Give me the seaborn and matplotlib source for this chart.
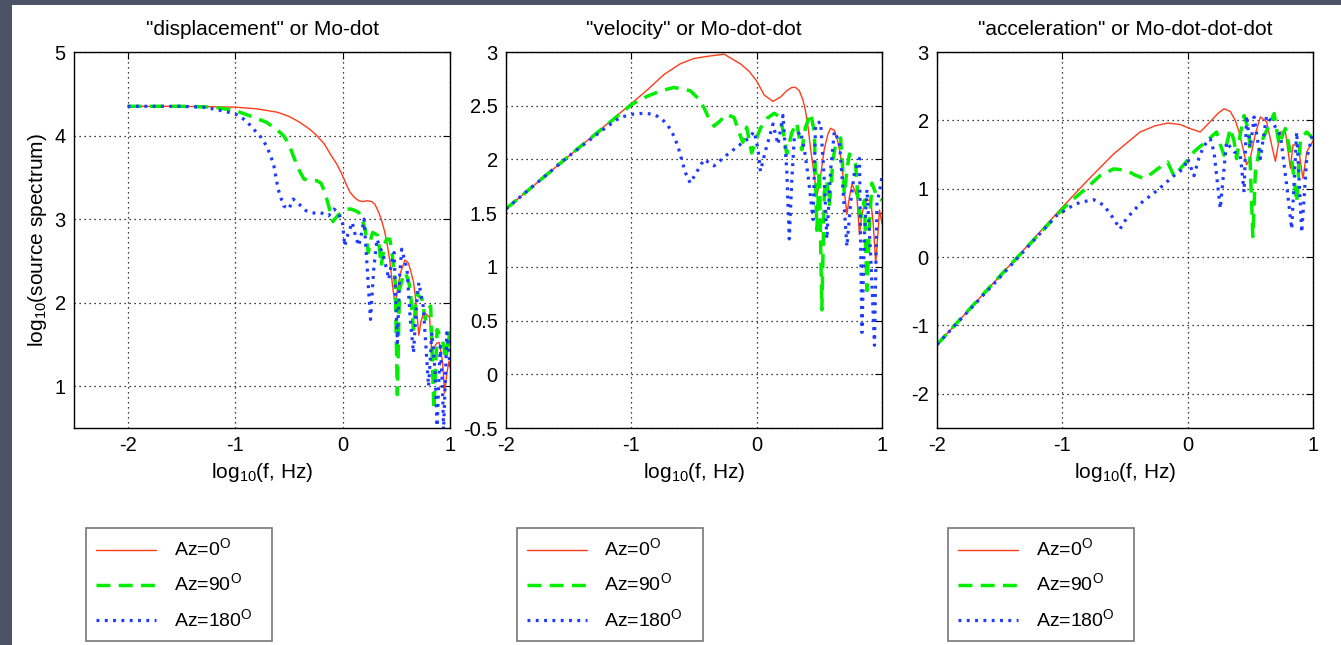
import matplotlib
matplotlib.use("Agg")
import matplotlib.pyplot as plt
import seaborn as sns
import pandas as pd
from matplotlib.patches import Rectangle
from matplotlib.font_manager import fontManager

# ---------------- data ----------------
titles = ['"displacement" or Mo-dot', '"velocity" or Mo-dot-dot', '"acceleration" or Mo-dot-dot-dot']
labels = ['Az=0', 'Az=90', 'Az=180']

disp_red_x = [-2.0,-1.5,-1.0,-0.8,-0.61,-0.5,-0.40,-0.30,-0.24,-0.17,-0.11,-0.05,0.0,0.04,0.07,0.11,0.15,0.19,0.23,0.27,0.30,0.33,0.36,0.39,0.41,0.44,0.47,0.49,0.51,0.54,0.58,0.61,0.63,0.66,0.68,0.71,0.73,0.76,0.78,0.81,0.83,0.86,0.88,0.90,0.93,0.95,0.97,0.99,1.0]
disp_red_y = [4.35,4.35,4.34,4.32,4.28,4.23,4.16,4.07,4.0,3.90,3.77,3.65,3.52,3.40,3.32,3.26,3.22,3.21,3.22,3.21,3.18,3.10,3.0,2.86,2.74,2.50,2.15,1.97,2.15,2.36,2.51,2.48,2.40,2.25,2.05,1.61,1.78,1.89,1.86,1.83,1.40,1.48,1.52,1.52,1.30,0.92,1.15,1.30,1.23]

disp_green_x = [-2.0,-1.5,-1.2,-1.0,-0.85,-0.71,-0.62,-0.55,-0.50,-0.46,-0.41,-0.36,-0.30,-0.24,-0.20,-0.16,-0.13,-0.09,-0.04,0.0,0.04,0.08,0.12,0.15,0.18,0.21,0.24,0.26,0.28,0.31,0.33,0.36,0.39,0.41,0.44,0.46,0.49,0.51,0.53,0.56,0.58,0.61,0.63,0.66,0.69,0.71,0.74,0.77,0.80,0.82,0.85,0.88,0.91,0.94,0.96,0.99,1.0]
disp_green_y = [4.35,4.35,4.34,4.30,4.23,4.16,4.08,4.0,3.90,3.76,3.60,3.48,3.46,3.46,3.43,3.30,3.16,2.97,3.05,3.08,3.12,3.12,3.10,3.08,3.00,2.88,2.60,2.75,2.84,2.82,2.80,2.44,2.70,2.76,2.76,2.60,2.24,0.90,2.16,2.30,2.36,2.28,2.16,1.68,2.12,2.08,2.04,1.80,1.92,1.96,0.72,1.68,1.60,1.50,1.32,1.64,1.40]

disp_blue_x = [-2.0,-1.5,-1.3,-1.21,-1.1,-1.0,-0.9,-0.83,-0.76,-0.71,-0.67,-0.64,-0.60,-0.55,-0.50,-0.46,-0.42,-0.39,-0.34,-0.30,-0.25,-0.21,-0.17,-0.13,-0.08,-0.04,0.0,0.02,0.05,0.09,0.12,0.15,0.18,0.20,0.23,0.26,0.29,0.32,0.35,0.38,0.41,0.43,0.46,0.48,0.51,0.53,0.55,0.58,0.60,0.63,0.66,0.69,0.71,0.73,0.75,0.78,0.80,0.82,0.83,0.86,0.88,0.90,0.91,0.93,0.94,0.96,0.97,0.99,1.0]
disp_blue_y = [4.35,4.35,4.34,4.32,4.29,4.26,4.18,4.08,3.98,3.88,3.76,3.64,3.36,3.16,3.12,3.24,3.20,3.16,3.10,3.08,3.07,3.08,3.06,3.04,3.12,3.08,2.95,2.68,2.82,2.96,2.80,2.68,2.85,3.0,2.40,1.80,2.40,2.76,2.66,2.56,2.40,2.28,2.50,2.60,1.52,2.30,2.64,2.50,2.40,1.80,1.40,2.00,2.24,2.10,1.96,1.40,1.00,1.40,1.64,1.20,0.52,1.20,1.48,1.00,0.48,1.20,1.64,1.40,1.24]

vel_red_x = [-2.0,-1.5,-1.0,-0.87,-0.74,-0.61,-0.50,-0.39,-0.26,-0.13,-0.06,0.0,0.06,0.13,0.19,0.24,0.28,0.31,0.34,0.37,0.39,0.41,0.43,0.46,0.48,0.51,0.54,0.57,0.59,0.62,0.64,0.66,0.68,0.70,0.72,0.74,0.76,0.78,0.80,0.82,0.84,0.86,0.88,0.91,0.93,0.95,0.97,0.98,1.0]
vel_red_y = [1.54,2.03,2.52,2.65,2.79,2.89,2.94,2.96,2.98,2.89,2.82,2.73,2.60,2.54,2.58,2.64,2.67,2.67,2.64,2.55,2.45,2.30,2.10,1.85,1.65,1.85,2.10,2.24,2.29,2.27,2.20,2.10,1.95,1.70,1.49,1.65,1.77,1.72,1.65,1.30,1.50,1.58,1.62,1.62,1.40,1.03,1.35,1.53,1.40]

vel_green_x = [-2.0,-1.5,-1.0,-0.87,-0.76,-0.66,-0.53,-0.46,-0.42,-0.38,-0.34,-0.29,-0.24,-0.18,-0.14,-0.11,-0.08,-0.04,0.0,0.03,0.08,0.14,0.19,0.22,0.24,0.28,0.32,0.34,0.36,0.39,0.43,0.46,0.48,0.50,0.52,0.54,0.56,0.58,0.61,0.63,0.67,0.70,0.72,0.74,0.77,0.79,0.81,0.83,0.86,0.88,0.90,0.92,0.96,1.0]
vel_green_y = [1.54,2.03,2.51,2.59,2.64,2.67,2.64,2.56,2.48,2.38,2.31,2.36,2.42,2.39,2.25,2.16,2.30,2.06,2.20,2.29,2.38,2.43,2.39,2.20,2.05,2.25,2.34,2.20,2.09,2.30,2.43,2.26,1.34,1.90,0.60,1.70,1.80,1.58,2.00,2.14,2.20,1.67,1.90,2.05,2.00,1.95,1.60,1.46,1.62,0.78,1.40,1.78,1.65,1.62]

vel_blue_x = [-2.0,-1.5,-1.2,-1.09,-1.0,-0.90,-0.82,-0.76,-0.71,-0.67,-0.63,-0.57,-0.53,-0.49,-0.42,-0.34,-0.23,-0.13,-0.06,-0.02,0.01,0.03,0.07,0.10,0.13,0.17,0.21,0.24,0.26,0.28,0.30,0.35,0.38,0.41,0.45,0.47,0.51,0.54,0.56,0.59,0.62,0.66,0.69,0.72,0.75,0.78,0.82,0.84,0.86,0.88,0.91,0.94,0.96,0.98,1.0]
vel_blue_y = [1.54,2.03,2.30,2.39,2.42,2.43,2.42,2.38,2.32,2.24,2.13,1.88,1.78,1.86,2.00,1.94,2.05,2.14,2.20,2.26,2.10,1.89,2.08,2.20,2.33,2.14,2.41,1.90,1.26,1.80,2.20,2.26,2.10,1.85,1.44,2.33,2.35,1.80,1.26,1.90,2.26,2.16,1.70,1.19,1.60,1.88,2.01,0.39,1.30,1.72,1.10,0.27,1.60,1.70,1.84]

acc_red_x = [-2.0,-1.5,-1.0,-0.80,-0.59,-0.38,-0.26,-0.16,-0.06,0.02,0.10,0.18,0.24,0.29,0.34,0.38,0.41,0.44,0.47,0.50,0.54,0.58,0.63,0.67,0.70,0.74,0.78,0.82,0.84,0.88,0.92,0.95,1.0]
acc_red_y = [-1.28,-0.28,0.73,1.12,1.51,1.83,1.92,1.96,1.94,1.88,1.83,1.98,2.10,2.17,2.13,2.00,1.83,1.60,1.35,1.45,1.80,2.05,1.98,1.64,1.40,1.83,1.83,1.30,1.64,1.64,1.15,1.54,1.70]

acc_green_x = [-2.0,-1.5,-1.0,-0.91,-0.80,-0.70,-0.59,-0.49,-0.42,-0.35,-0.29,-0.24,-0.16,-0.11,-0.06,0.0,0.05,0.10,0.15,0.20,0.23,0.26,0.29,0.34,0.37,0.39,0.42,0.45,0.49,0.52,0.54,0.57,0.60,0.65,0.69,0.73,0.76,0.78,0.83,0.87,0.90,0.95,1.0]
acc_green_y = [-1.28,-0.28,0.70,0.85,1.02,1.19,1.29,1.27,1.20,1.15,1.22,1.29,1.39,1.19,1.29,1.42,1.54,1.62,1.69,1.78,1.83,1.65,1.49,1.88,1.70,1.44,1.80,2.07,1.83,0.30,1.24,1.55,1.73,1.93,2.10,1.64,1.80,1.88,1.44,0.80,1.73,1.83,1.73]

acc_blue_x = [-2.0,-1.5,-1.05,-1.0,-0.93,-0.86,-0.75,-0.67,-0.59,-0.54,-0.49,-0.38,-0.24,-0.11,-0.03,0.0,0.05,0.09,0.13,0.18,0.21,0.26,0.31,0.37,0.42,0.45,0.47,0.50,0.53,0.58,0.63,0.69,0.74,0.79,0.83,0.87,0.91,0.95,1.0]
acc_blue_y = [-1.28,-0.30,0.60,0.66,0.74,0.80,0.84,0.76,0.56,0.41,0.56,0.78,0.98,1.19,1.30,1.44,1.19,1.45,1.63,1.73,1.54,0.71,1.68,1.54,1.49,0.95,2.07,1.60,2.05,1.44,2.07,1.93,1.78,1.05,0.41,1.83,0.36,1.44,1.83]

xlims = [(-2.5, 1), (-2, 1), (-2, 1)]
ylims = [(0.5, 5), (-0.5, 3), (-2.5, 3)]
xticks = [[-2, -1, 0, 1], [-2, -1, 0, 1], [-2, -1, 0, 1]]
yticks = [[1, 2, 3, 4, 5], [-0.5, 0, 0.5, 1, 1.5, 2, 2.5, 3], [-2, -1, 0, 1, 2, 3]]
ytick_labels = [['1', '2', '3', '4', '5'],
                ['-0.5', '0', '0.5', '1', '1.5', '2', '2.5', '3'],
                ['-2', '-1', '0', '1', '2', '3']]

panels = [
    [(disp_red_x, disp_red_y), (disp_green_x, disp_green_y), (disp_blue_x, disp_blue_y)],
    [(vel_red_x, vel_red_y), (vel_green_x, vel_green_y), (vel_blue_x, vel_blue_y)],
    [(acc_red_x, acc_red_y), (acc_green_x, acc_green_y), (acc_blue_x, acc_blue_y)],
]

# ---------------- styling ----------------
sns.set_theme(style="white")
plt.rcParams['font.family'] = ['Liberation Sans', 'DejaVu Sans']
plt.rcParams['text.color'] = 'black'
names = {f.name for f in fontManager.ttflist}
legend_font = 'Liberation Sans Narrow' if 'Liberation Sans Narrow' in names else 'Liberation Sans'

colors = ['#ff3b1a', '#00ee00', '#1e3cff']
styles = [dict(lw=1.0, ls='-'),
          dict(lw=2.5, ls=(0, (4.0, 2.4))),
          dict(lw=2.3, ls=(0, (0.9, 1.7)))]

W, H = 1341, 645
fig = plt.figure(figsize=(W / 100, H / 100), dpi=100, facecolor='#4c5366')
bg = Rectangle((12 / W, 0), 1, 1 - 5 / H, transform=fig.transFigure,
               facecolor='white', edgecolor='none', zorder=-10)
fig.patches.append(bg)

ax_lefts = [74, 506, 937]
ax_w, ax_top, ax_bot = 376, 52, 428
leg_lefts = [86, 517, 948]

for i in range(3):
    ax = fig.add_axes([ax_lefts[i] / W, 1 - ax_bot / H, ax_w / W, (ax_bot - ax_top) / H])
    ax.set_facecolor('white')
    for j, (xs, ys) in enumerate(panels[i]):
        df = pd.DataFrame({'x': xs, 'y': ys})
        sns.lineplot(data=df, x='x', y='y', ax=ax, color=colors[j], estimator=None,
                     sort=False, linewidth=styles[j]['lw'], linestyle=styles[j]['ls'],
                     label=fr'{labels[j]}$^{{\mathregular{{O}}}}$')
    ax.set_xlim(*xlims[i])
    ax.set_ylim(*ylims[i])
    ax.set_xticks(xticks[i])
    ax.set_xticklabels([str(t) for t in xticks[i]])
    ax.set_yticks(yticks[i])
    ax.set_yticklabels(ytick_labels[i])
    ax.grid(True, color='black', linestyle=(0, (1, 3)), linewidth=0.9)
    ax.tick_params(direction='in', length=5, width=0.8, top=True, right=True,
                   labelsize=14.5, colors='black', pad=6)
    for s in ax.spines.values():
        s.set_color('black')
        s.set_linewidth(1.0)
    ax.set_title(titles[i], fontsize=15, pad=12, color='black')
    ax.set_xlabel(r'log$_{\mathregular{10}}$(f, Hz)', fontsize=15, color='black', labelpad=4)
    if i == 0:
        ax.set_ylabel(r'log$_{\mathregular{10}}$(source spectrum)', fontsize=15, color='black', labelpad=4)
    else:
        ax.set_ylabel('')
    leg = ax.legend(loc='upper left',
                    bbox_to_anchor=(leg_lefts[i] / W, 1 - 528 / H, 186 / W, 0.0),
                    bbox_transform=fig.transFigure, mode='expand',
                    prop={'family': legend_font, 'size': 14},
                    frameon=True, fancybox=False, edgecolor='#555555',
                    handlelength=3.1, handletextpad=0.9, labelspacing=0.65,
                    borderpad=0.5, borderaxespad=0)
    leg.get_frame().set_linewidth(1.2)
    for t in leg.get_texts():
        t.set_color('black')

fig.savefig('out.png', dpi=100, facecolor=fig.get_facecolor())
